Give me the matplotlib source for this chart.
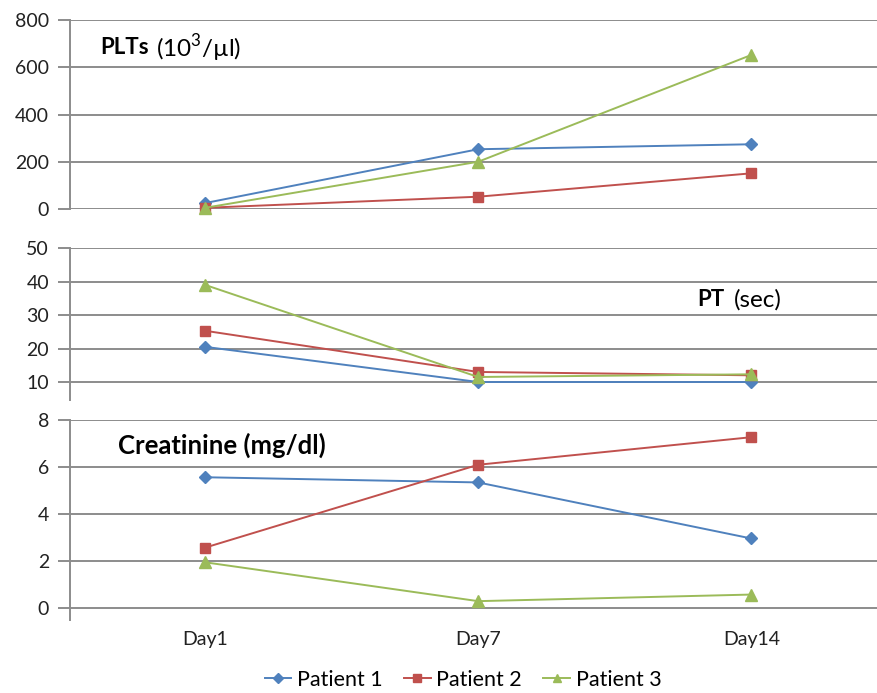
import matplotlib.pyplot as plt
from matplotlib.lines import Line2D

plt.rcParams['font.family'] = ['Lato', 'DejaVu Sans']
plt.rcParams['mathtext.fontset'] = 'custom'
plt.rcParams['mathtext.rm'] = 'Lato'

days = ['Day1', 'Day7', 'Day14']
patients = ['Patient 1', 'Patient 2', 'Patient 3']

plts_p1 = [25, 253, 274]
plts_p2 = [5, 52, 151]
plts_p3 = [5, 200, 652]

pt_p1 = [20.5, 10, 10]
pt_p2 = [25.3, 13, 12]
pt_p3 = [39, 11.5, 12.3]

cr_p1 = [5.57, 5.35, 2.97]
cr_p2 = [2.58, 6.1, 7.27]
cr_p3 = [1.96, 0.31, 0.59]

colors = ['#4F81BD', '#C0504D', '#9BBB59']
markers = ['D', 's', '^']
msizes = [6, 6.5, 8]
grid_c = '#8c8c8c'

W, H = 877, 693
fig = plt.figure(figsize=(W / 100, H / 100), dpi=100)


def box(top, bottom, left=70, right=877):
    return [left / W, 1 - bottom / H, (right - left) / W, (bottom - top) / H]


ax1 = fig.add_axes(box(20, 209))
ax2 = fig.add_axes(box(248, 400))
ax3 = fig.add_axes(box(420, 620))

panels = [
    (ax1, [plts_p1, plts_p2, plts_p3], (0, 800), [0, 200, 400, 600, 800]),
    (ax2, [pt_p1, pt_p2, pt_p3], (4.63, 50), [10, 20, 30, 40, 50]),
    (ax3, [cr_p1, cr_p2, cr_p3], (-0.49, 8), [0, 2, 4, 6, 8]),
]

x = range(len(days))
for ax, series, ylim, yticks in panels:
    for vals, c, m, ms in zip(series, colors, markers, msizes):
        ax.plot(x, vals, color=c, marker=m, markersize=ms, lw=1.4, clip_on=False, zorder=3)
    ax.set_xlim(-0.494, 2.46)
    ax.set_ylim(*ylim)
    ax.set_yticks(yticks)
    ax.grid(axis='y', color=grid_c, lw=1.4)
    ax.set_axisbelow(True)
    for s in ['top', 'right', 'bottom']:
        ax.spines[s].set_visible(False)
    ax.spines['left'].set_color(grid_c)
    ax.spines['left'].set_linewidth(1.4)
    ax.tick_params(axis='y', length=9, width=1.4, color=grid_c, labelsize=14, pad=6, labelcolor='#222222')
    ax.tick_params(axis='x', length=0)
    ax.set_xticks(list(x))
    ax.set_xticklabels([])

ax3.set_xticklabels(days, fontsize=14, color='#222222')
ax3.tick_params(axis='x', pad=8)

# panel titles
fig.text(100 / W, 1 - 48 / H, 'PLTs', fontsize=16, weight='bold', va='center')
fig.text(156 / W, 1 - 48 / H, '(10$^{3}$/µl)', fontsize=17.5, va='center')
fig.text(697 / W, 1 - 300 / H, 'PT', fontsize=16, weight='bold', va='center')
fig.text(734 / W, 1 - 300 / H, '(sec)', fontsize=17.5, va='center')
fig.text(118 / W, 1 - 445 / H, 'Creatinine (mg/dl)', fontsize=18.5, weight='bold', va='center')

handles = [Line2D([], [], color=c, marker=m, markersize=ms * 0.8, lw=1.4)
           for c, m, ms in zip(colors, markers, msizes)]
fig.legend(handles, patients, ncol=3, loc='center', bbox_to_anchor=(463 / W, 1 - 680 / H),
           frameon=False, fontsize=15.5, handlelength=1.25, handletextpad=0.25, columnspacing=1.0)

fig.savefig('out.png', dpi=100)
